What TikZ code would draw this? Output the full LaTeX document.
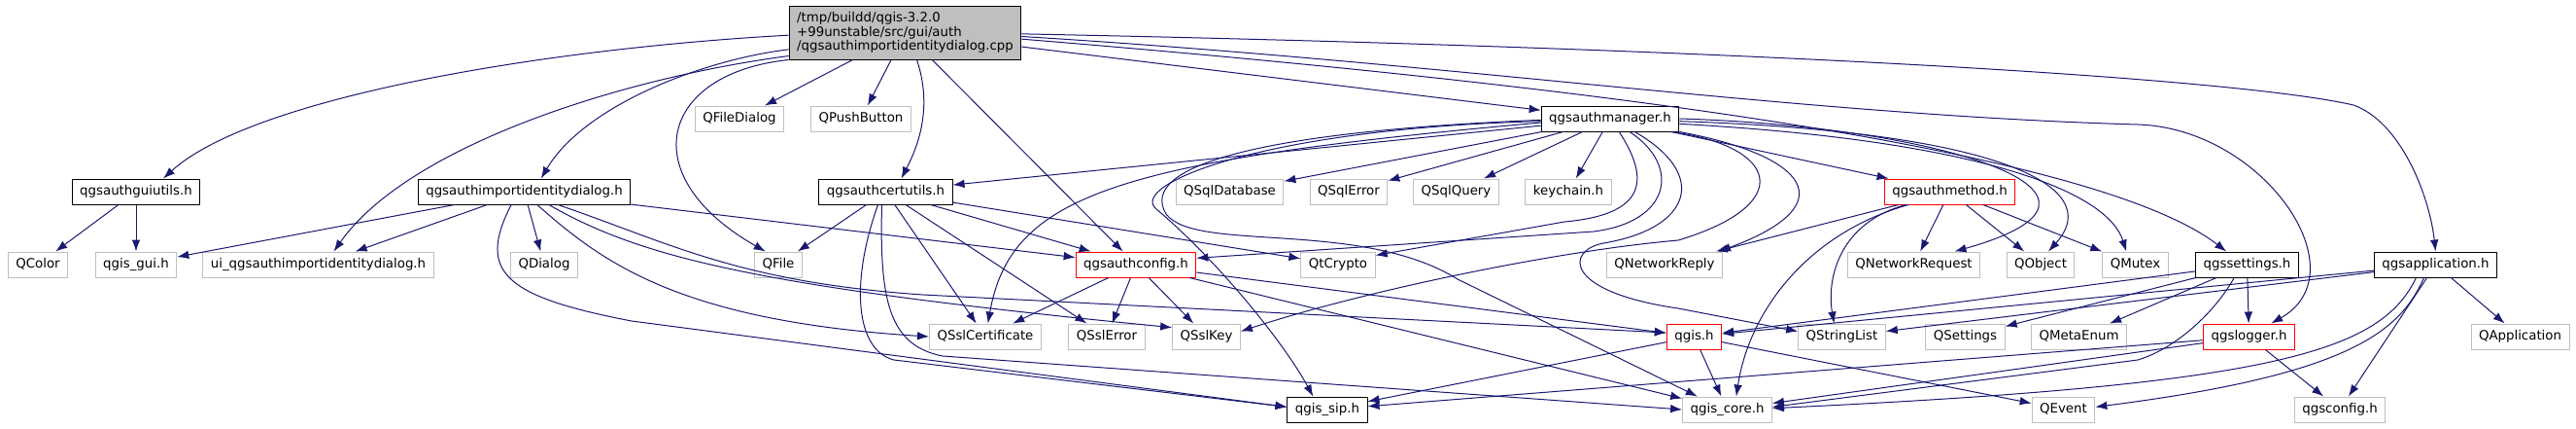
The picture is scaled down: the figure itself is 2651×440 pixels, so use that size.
\documentclass[tikz,border=0pt]{standalone}
\usepackage{fontspec}
\setmainfont{DejaVu Sans}
\usetikzlibrary{arrows.meta}
\definecolor{edgeblue}{HTML}{191970}
\definecolor{boxgray}{HTML}{BFBFBF}

\begin{document}
\begin{tikzpicture}[x=0.75pt, y=-0.75pt, >={Latex[length=9pt,width=6.5pt]},
	file/.style={rectangle, draw=boxgray, line width=0.75pt, minimum height=19.5pt,
		inner xsep=6pt, inner ysep=0pt, text height=7.6pt, text depth=2.4pt,
		font=\fontsize{10pt}{11pt}\selectfont},
	docfile/.style={file, draw=black},
	redfile/.style={file, draw=red},
	srcfile/.style={rectangle, draw=black, fill=boxgray, line width=0.75pt, align=left,
		minimum height=41.25pt, inner xsep=6pt, inner ysep=3pt,
		font=\fontsize{10pt}{11pt}\selectfont},
	dep/.style={->, edgeblue, line width=0.75pt}]

	\useasboundingbox (0,0) rectangle (2651,440);

	\node[srcfile] (root) at (931.5,33.5) {/tmp/buildd/qgis-3.2.0\\+99unstable/src/gui/auth\\/qgsauthimportidentitydialog.cpp};

	\node[file] (dlgfile) at (761,122) {QFileDialog};
	\node[file] (pushbtn) at (886,122) {QPushButton};
	\node[docfile] (authmgr) at (1657,122) {qgsauthmanager.h};

	\node[docfile] (guiutils) at (140,197) {qgsauthguiutils.h};
	\node[docfile] (impdlg) at (539.5,197) {qgsauthimportidentitydialog.h};
	\node[docfile] (certutils) at (911.5,197) {qgsauthcertutils.h};
	\node[file] (sqldb) at (1265.5,197) {QSqlDatabase};
	\node[file] (sqlerr) at (1388,197) {QSqlError};
	\node[file] (sqlquery) at (1498.5,197) {QSqlQuery};
	\node[file] (keychain) at (1614,197) {keychain.h};
	\node[redfile] (authmethod) at (2006.5,197) {qgsauthmethod.h};

	\node[file] (qcolor) at (39,272) {QColor};
	\node[file] (qgisgui) at (140,272) {qgis\_gui.h};
	\node[file] (uidlg) at (327.5,272) {ui\_qgsauthimportidentitydialog.h};
	\node[file] (qdialog) at (560,272) {QDialog};
	\node[file] (qfile) at (801,272) {QFile};
	\node[redfile] (authcfg) at (1169,272) {qgsauthconfig.h};
	\node[file] (qtcrypto) at (1377,272) {QtCrypto};
	\node[file] (netreply) at (1713,272) {QNetworkReply};
	\node[file] (netreq) at (1969.5,272) {QNetworkRequest};
	\node[file] (qobject) at (2100,272) {QObject};
	\node[file] (qmutex) at (2197.5,272) {QMutex};
	\node[docfile] (settings) at (2312.5,272) {qgssettings.h};
	\node[docfile] (app) at (2506.5,272) {qgsapplication.h};

	\node[file] (sslcert) at (1014,346) {QSslCertificate};
	\node[file] (sslerr) at (1139,346) {QSslError};
	\node[file] (sslkey) at (1241.5,346) {QSslKey};
	\node[redfile] (qgish) at (1743.5,346) {qgis.h};
	\node[file] (strlist) at (1895.5,346) {QStringList};
	\node[file] (qsettings) at (2022.5,346) {QSettings};
	\node[file] (metaenum) at (2139.5,346) {QMetaEnum};
	\node[redfile] (logger) at (2314.5,346) {qgslogger.h};
	\node[file] (qapp) at (2593.5,346) {QApplication};

	\node[docfile] (qgissip) at (1366,421) {qgis\_sip.h};
	\node[file] (qgiscore) at (1777.5,421) {qgis\_core.h};
	\node[file] (qevent) at (2123.5,421) {QEvent};
	\node[file] (qgsconfig) at (2408,421) {qgsconfig.h};

	\draw[dep]
	(root) edge (dlgfile)
	(root) edge (pushbtn)
	(root) edge (authcfg)
	(root) edge (authmgr)
	(guiutils) edge (qcolor)
	(guiutils) edge (qgisgui)
	(impdlg) edge (qgisgui)
	(impdlg) edge (uidlg)
	(impdlg) edge (qdialog)
	(impdlg) edge (authcfg)
	(certutils) edge (qfile)
	(certutils) edge (sslcert)
	(certutils) edge (sslerr)
	(certutils) edge (authcfg)
	(certutils) edge (qtcrypto)
	(authmgr) edge (certutils)
	(authmgr) edge (sqldb)
	(authmgr) edge (sqlerr)
	(authmgr) edge (sqlquery)
	(authmgr) edge (keychain)
	(authmgr) edge (authmethod)
	(authcfg) edge (sslcert)
	(authcfg) edge (sslerr)
	(authcfg) edge (sslkey)
	(authcfg) edge (qgish)
	(authcfg) edge (qgiscore)
	(authmethod) edge (netreply)
	(authmethod) edge (netreq)
	(authmethod) edge (qobject)
	(authmethod) edge (qmutex)
	(settings) edge (qsettings)
	(settings) edge (metaenum)
	(settings) edge (logger)
	(settings) edge (qgish)
	(app) edge (qgish)
	(app) edge (strlist)
	(app) edge (qapp)
	(app) edge (qgsconfig)
	(qgish) edge (qgissip)
	(qgish) edge (qgiscore)
	(qgish) edge (qevent)
	(logger) edge (qgiscore)
	(logger) edge (qgissip)
	(logger) edge (qgsconfig);

	% source file
	\draw[dep] ([yshift=-2pt]root.west) .. controls (560,50) and (260,100) .. ([xshift=21pt]guiutils.north);
	\draw[dep] ([yshift=-13pt]root.west) .. controls (720,62) and (600,110) .. ([xshift=13pt]impdlg.north);
	\draw[dep] ([yshift=-18pt]root.west) .. controls (640,80) and (420,150) .. ([xshift=12pt]uidlg.north);
	\draw[dep] (root.south west) .. controls (680,75) and (650,180) .. ([xshift=-10pt]qfile.north);
	\draw[dep] ([xshift=9pt]root.south) .. controls (960,110) and (945,150) .. ([xshift=12pt]certutils.north);
	\draw[dep] ([yshift=-5pt]root.east) .. controls (1600,85) and (2150,150) .. ([xshift=-16pt]settings.north);
	\draw[dep] ([yshift=-3pt]root.east) .. controls (1500,65) and (1850,118) .. (2200,128)
		.. controls (2330,132) and (2430,280) .. ([xshift=17pt]logger.north);
	\draw[dep] ([yshift=-1pt]root.east) .. controls (1800,50) and (2300,80) .. (2422,108)
		.. controls (2470,125) and (2500,200) .. (app.north);

	% qgsauthmanager.h
	\draw[dep] ([yshift=-3pt]authmgr.west) .. controls (1150,165) and (1040,200) .. ([xshift=2pt]sslcert.north);
	\draw[dep] ([yshift=-2pt]authmgr.west) .. controls (1300,132) and (1160,190) .. (1190,215)
		.. controls (1250,265) and (1320,350) .. ([xshift=-11pt]qgissip.north);
	\draw[dep] ([yshift=-1pt]authmgr.west) .. controls (1300,135) and (1170,170) .. (1200,220)
		.. controls (1230,260) and (1400,225) .. (1500,287) -- ([xshift=-23pt]qgiscore.north);
	\draw[dep] ([xshift=7pt]authmgr.south) .. controls (1695,180) and (1700,220) .. (1610,228)
		-- ([yshift=-3pt]qtcrypto.north east);
	\draw[dep] ([xshift=15pt]authmgr.south) .. controls (1730,170) and (1720,228) .. (1640,238)
		-- ([yshift=5pt]authcfg.east);
	\draw[dep] ([xshift=19pt]authmgr.south) .. controls (1760,180) and (1740,235) .. (1650,250)
		.. controls (1610,258) and (1610,300) .. (1727,317) -- ([yshift=4pt]strlist.west);
	\draw[dep] ([xshift=47pt]authmgr.south) .. controls (1830,150) and (1850,210) .. (1727,247)
		.. controls (1600,258) and (1400,300) .. ([yshift=4pt]sslkey.east);
	\draw[dep] (authmgr.south east) .. controls (1860,160) and (1900,210) .. ([xshift=-3pt]netreply.north east);
	\draw[dep] (authmgr.east) .. controls (2000,130) and (2220,200) .. ([xshift=-20pt]netreq.north east);
	\draw[dep] ([yshift=-2pt]authmgr.east) .. controls (2050,135) and (2170,190) .. ([xshift=6pt]qobject.north);
	\draw[dep] ([yshift=-4pt]authmgr.east) .. controls (2050,145) and (2170,200) .. ([xshift=-7pt]qmutex.north);

	% qgsauthmethod.h
	\draw[dep] ([xshift=-34pt]authmethod.south) .. controls (1890,230) and (1880,290) .. ([xshift=-6pt]strlist.north);
	\draw[dep] ([xshift=-32pt]authmethod.south) .. controls (1860,240) and (1800,320) .. ([xshift=7pt]qgiscore.north);

	% qgssettings.h, qgsapplication.h
	\draw[dep] ([xshift=-10pt]settings.south) .. controls (2280,320) and (2240,358) .. (2200,370)
		-- ([yshift=2pt]qgiscore.east);
	\draw[dep] ([xshift=-9pt]app.south) .. controls (2470,340) and (2420,385) .. ([yshift=2pt]qevent.east);
	\draw[dep] ([xshift=-15pt]app.south) .. controls (2450,360) and (2350,395) .. ([yshift=1pt]qgiscore.east);

	% qgsauthcertutils.h
	\draw[dep] ([xshift=-6pt]certutils.south) .. controls (875,290) and (880,360) .. (920,370)
		-- ([yshift=2pt]qgissip.west);
	\draw[dep] ([xshift=-3pt]certutils.south) .. controls (905,310) and (915,355) .. (970,366)
		-- (qgiscore.west);

	% qgsauthimportidentitydialog.h
	\draw[dep] ([xshift=-10pt]impdlg.south) .. controls (490,280) and (520,305) .. (650,330)
		-- ([yshift=2pt]qgissip.west);
	\draw[dep] ([xshift=10pt]impdlg.south) .. controls (620,270) and (700,330) .. (sslcert.west);
	\draw[dep] ([xshift=19pt]impdlg.south) .. controls (660,265) and (780,295) .. ([yshift=7pt]sslkey.west);
	\draw[dep] ([xshift=26pt]impdlg.south) .. controls (690,250) and (760,290) .. (950,303)
		-- ([yshift=3pt]qgish.west);

\end{tikzpicture}
\end{document}
